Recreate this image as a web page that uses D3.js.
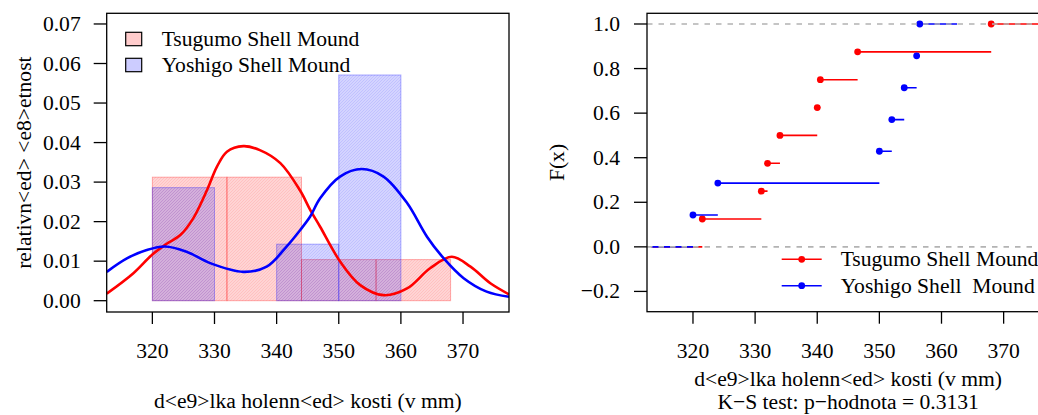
<!DOCTYPE html>
<html>
<head>
<meta charset="utf-8">
<script src="https://cdn.jsdelivr.net/npm/d3@7"></script>
<style>
  body { margin: 0; background: #fff; }
  text { font-family: "Liberation Serif", "Times New Roman", serif; font-size: 21.6px; fill: #000; }
</style>
</head>
<body>
<svg id="chart" width="1038" height="415"></svg>
<script>
// samples (read from the ECDF points)
var tsugumo = [321.5, 331, 332, 334, 340, 340.5, 346.5, 368];
var yoshigo = [320, 324, 350, 352, 354, 356, 356.5];
var tsugumoF = [0.125, 0.25, 0.375, 0.5, 0.625, 0.75, 0.875, 1.0];
var yoshigoF = [0.143, 0.286, 0.429, 0.571, 0.714, 0.857, 1.0];

// histogram breaks + densities
var tsugumoBreaks = [320, 332, 344, 356, 368];
var tsugumoHist = [0.03125, 0.03125, 0.0104, 0.0104];
var yoshigoBreaks = [320, 330, 340, 350, 360];
var yoshigoHist = [0.0286, 0, 0.0143, 0.0571];

// density curves [x, density]
var tsugumoDens = [[312.66,0.0018],[316.9,0.0069],[320,0.0117],[322.3,0.0144],[324.5,0.0166],[326.6,0.0209],
  [328.8,0.028],[330.4,0.0339],[332.0,0.0377],[334.65,0.0391],[337.3,0.0381],[340.6,0.0348],[343.8,0.0278],
  [345.4,0.023],[347.0,0.0187],[350.3,0.0097],[353.4,0.0040],[357.2,0.0014],[361.0,0.0031],[364.7,0.0082],
  [368.2,0.0111],[371.2,0.0086],[374.4,0.0044],[377.4,0.0016]];
var yoshigoDens = [[312.66,0.0073],[315.9,0.0107],[319.1,0.0128],[322.0,0.0137],[325.5,0.0124],[329.3,0.0095],
  [334.65,0.0073],[338.4,0.0086],[341.6,0.0137],[343.8,0.0179],[345.4,0.0213],[347.0,0.0259],[350.2,0.0314],
  [353.7,0.0333],[357.2,0.0314],[361.0,0.0247],[364.2,0.0162],[366.9,0.0107],[370.1,0.0057],[373.8,0.0023],
  [377.4,0.0010]];

var xTicks = [320, 330, 340, 350, 360, 370];
var histYTicks = [0, 0.01, 0.02, 0.03, 0.04, 0.05, 0.06, 0.07];
var ecdfYTicks = [-0.2, 0, 0.2, 0.4, 0.6, 0.8, 1.0];
var seriesNames = ["Tsugumo Shell Mound", "Yoshigo Shell Mound"];
var ecdfNames = ["Tsugumo Shell Mound", "Yoshigo Shell\u00a0 Mound"];
var xTitle = "d<e9>lka holenn<ed> kosti (v mm)";
var ksText = "K\u2212S test: p\u2212hodnota = 0.3131";

var svg = d3.select("#chart");
var defs = svg.append("defs");

function hatch(id, rgb){
  var p = defs.append("pattern")
    .attr("id", id)
    .attr("patternUnits", "userSpaceOnUse")
    .attr("width", 3).attr("height", 3);
  p.append("rect").attr("width", 3).attr("height", 3).attr("fill", "rgba(" + rgb + ",0.17)");
  p.append("path")
    .attr("d", "M-1,1 L1,-1 M0,3 L3,0 M2,4 L4,2")
    .attr("stroke", "rgba(" + rgb + ",0.09)")
    .attr("stroke-width", 1);
}
hatch("hRed", "255,0,0");
hatch("hBlue", "0,0,255");

function fmtMinus(s){ return s.replace("-", "\u2212"); }

//---------------- left panel: histograms + densities
var L = {left: 106.7, right: 509, top: 13.3, bottom: 312};
var x1 = d3.scaleLinear().domain([312.65, 377.4]).range([L.left, L.right]);
var y1 = d3.scaleLinear().domain([-0.00286, 0.0727]).range([L.bottom, L.top]);

defs.append("clipPath").attr("id", "clipL").append("rect")
  .attr("x", L.left).attr("y", L.top).attr("width", L.right - L.left).attr("height", L.bottom - L.top);

var g1 = svg.append("g").attr("clip-path", "url(#clipL)");

function drawHist(breaks, dens, fill, stroke){
  g1.selectAll(null)
    .data(dens)
    .enter().append("rect")
      .attr("x", function(d, i){ return x1(breaks[i]); })
      .attr("width", function(d, i){ return x1(breaks[i+1]) - x1(breaks[i]); })
      .attr("y", function(d){ return y1(d); })
      .attr("height", function(d){ return y1(0) - y1(d); })
      .attr("fill", fill)
      .attr("stroke", stroke)
      .attr("stroke-width", 1);
}
drawHist(tsugumoBreaks, tsugumoHist, "url(#hRed)", "rgba(255,0,0,0.3)");
drawHist(yoshigoBreaks, yoshigoHist, "url(#hBlue)", "rgba(0,0,255,0.3)");

var dline = d3.line()
  .x(function(d){ return x1(d[0]); })
  .y(function(d){ return y1(d[1]); })
  .curve(d3.curveCatmullRom.alpha(0.5));

g1.append("path").attr("d", dline(tsugumoDens)).attr("fill", "none").attr("stroke", "#ff0000").attr("stroke-width", 2.6);
g1.append("path").attr("d", dline(yoshigoDens)).attr("fill", "none").attr("stroke", "#0000ff").attr("stroke-width", 2.6);

// box
svg.append("rect")
  .attr("x", L.left).attr("y", L.top).attr("width", L.right - L.left).attr("height", L.bottom - L.top)
  .attr("fill", "none").attr("stroke", "#000").attr("stroke-width", 1.3);

// y axis
histYTicks.forEach(function(t){
  svg.append("line").attr("x1", L.left - 13).attr("x2", L.left).attr("y1", y1(t)).attr("y2", y1(t))
    .attr("stroke", "#000").attr("stroke-width", 1.3);
  svg.append("text").attr("x", L.left - 26).attr("y", y1(t) + 7)
    .attr("text-anchor", "end").text(d3.format(".2f")(t));
});
// x axis
xTicks.forEach(function(t){
  svg.append("line").attr("x1", x1(t)).attr("x2", x1(t)).attr("y1", L.bottom).attr("y2", L.bottom + 12)
    .attr("stroke", "#000").attr("stroke-width", 1.3);
  svg.append("text").attr("x", x1(t)).attr("y", 358).attr("text-anchor", "middle").text(t);
});
svg.append("text").attr("x", (L.left + L.right) / 2).attr("y", 408).attr("text-anchor", "middle").text(xTitle);
svg.append("text").attr("transform", "translate(31," + ((L.top + L.bottom) / 2) + ") rotate(-90)")
  .attr("text-anchor", "middle").text("relativn<ed> <e8>etnost");

// legend
var legFill = ["rgba(255,0,0,0.2)", "rgba(0,0,255,0.2)"];
seriesNames.forEach(function(n, i){
  var yb = 45.7 + i * 26;
  svg.append("rect").attr("x", 125.7).attr("y", yb - 13.4).attr("width", 16).attr("height", 13.4)
    .attr("fill", legFill[i]).attr("stroke", "#000").attr("stroke-width", 1.2);
  svg.append("text").attr("x", 161.7).attr("y", yb).text(n);
});

//---------------- right panel: ECDFs
var R = {left: 647, right: 1049.3, top: 13.3, bottom: 311.7};
var x2 = d3.scaleLinear().domain([312.6, 377.35]).range([R.left, R.right]);
var y2 = d3.scaleLinear().domain([-0.291, 1.048]).range([R.bottom, R.top]);

defs.append("clipPath").attr("id", "clipR").append("rect")
  .attr("x", R.left).attr("y", R.top).attr("width", R.right - R.left).attr("height", R.bottom - R.top);
var g2 = svg.append("g").attr("clip-path", "url(#clipR)");

function drawEcdf(xs, fs, startX, endX, col){
  var segs = [[startX, xs[0], 0]];
  for (var i = 0; i < xs.length; i++){
    segs.push([xs[i], i < xs.length - 1 ? xs[i+1] : endX, fs[i]]);
  }
  g2.selectAll(null)
    .data(segs)
    .enter().append("line")
      .attr("x1", function(d){ return x2(d[0]); })
      .attr("x2", function(d){ return x2(d[1]); })
      .attr("y1", function(d){ return y2(d[2]); })
      .attr("y2", function(d){ return y2(d[2]); })
      .attr("stroke", col)
      .attr("stroke-width", 1.6);
  g2.selectAll(null)
    .data(xs)
    .enter().append("circle")
      .attr("cx", function(d){ return x2(d); })
      .attr("cy", function(d, i){ return y2(fs[i]); })
      .attr("r", 3.4)
      .attr("fill", col);
}
drawEcdf(tsugumo, tsugumoF, 313.3, 377.35, "#ff0000");
drawEcdf(yoshigo, yoshigoF, 313.3, 362.5, "#0000ff");

// reference lines at 0 and 1
[0, 1].forEach(function(v){
  g2.append("line").attr("x1", R.left).attr("x2", R.right).attr("y1", y2(v)).attr("y2", y2(v))
    .attr("stroke", "#b3b3b3").attr("stroke-width", 1.6).attr("stroke-dasharray", "5.5,6");
});

svg.append("rect")
  .attr("x", R.left).attr("y", R.top).attr("width", R.right - R.left).attr("height", R.bottom - R.top)
  .attr("fill", "none").attr("stroke", "#000").attr("stroke-width", 1.3);

ecdfYTicks.forEach(function(t){
  svg.append("line").attr("x1", R.left - 13).attr("x2", R.left).attr("y1", y2(t)).attr("y2", y2(t))
    .attr("stroke", "#000").attr("stroke-width", 1.3);
  svg.append("text").attr("x", R.left - 27).attr("y", y2(t) + 7)
    .attr("text-anchor", "end").text(fmtMinus(d3.format(".1f")(t)));
});
xTicks.forEach(function(t){
  svg.append("line").attr("x1", x2(t)).attr("x2", x2(t)).attr("y1", R.bottom).attr("y2", R.bottom + 12)
    .attr("stroke", "#000").attr("stroke-width", 1.3);
  svg.append("text").attr("x", x2(t)).attr("y", 358).attr("text-anchor", "middle").text(t);
});
var rMid = (R.left + R.right) / 2;
svg.append("text").attr("x", rMid).attr("y", 385.5).attr("text-anchor", "middle").text(xTitle);
svg.append("text").attr("x", rMid).attr("y", 409).attr("text-anchor", "middle").text(ksText);
svg.append("text").attr("transform", "translate(564," + ((R.top + R.bottom) / 2) + ") rotate(-90)")
  .attr("text-anchor", "middle").text("F(x)");

// legend (no frame)
var legCol = ["#ff0000", "#0000ff"];
ecdfNames.forEach(function(n, i){
  var yy = 259.3 + i * 26.4;
  svg.append("line").attr("x1", 781.7).attr("x2", 821.7).attr("y1", yy).attr("y2", yy)
    .attr("stroke", legCol[i]).attr("stroke-width", 1.6);
  svg.append("circle").attr("cx", 801.7).attr("cy", yy).attr("r", 3.4).attr("fill", legCol[i]);
  svg.append("text").attr("x", 840.7).attr("y", yy + 7).text(n);
});
</script>
</body>
</html>
